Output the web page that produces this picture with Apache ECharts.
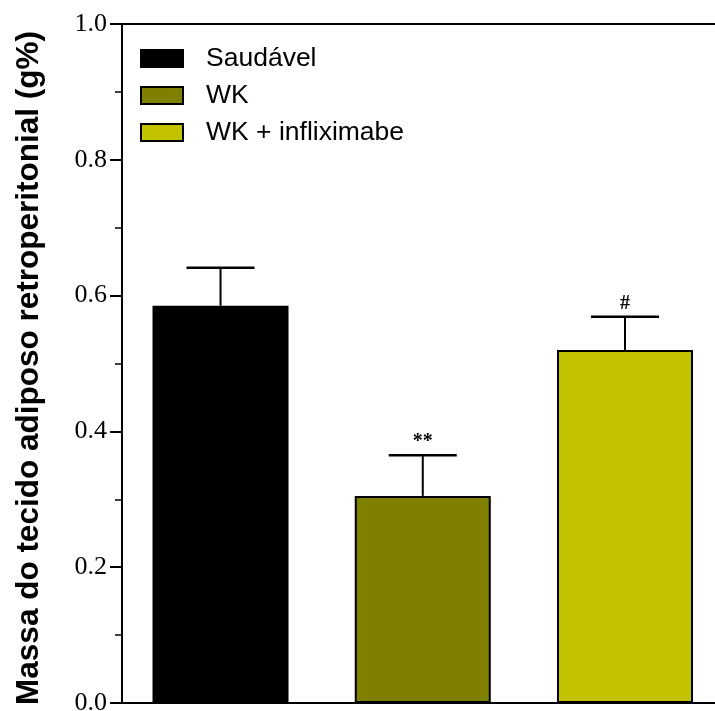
<!DOCTYPE html>
<html>
<head>
<meta charset="utf-8">
<script src="https://cdn.jsdelivr.net/npm/echarts@6/dist/echarts.min.js"></script>
<style>
  html, body { margin: 0; padding: 0; background: #fff; }
  #chart { width: 715px; height: 711px; }
</style>
</head>
<body>
<div id="chart"></div>
<script>
// Group names, mean values and upper error limits (mean + SEM)
var groups = ['Saudável', 'WK', 'WK + infliximabe'];
var means = [0.585, 0.305, 0.52];
var upperErr = [0.641, 0.365, 0.569];
var markers = ['', '**', '#'];
var colors = ['#000000', '#808000', '#c2c200'];
var yTicks = [0, 0.2, 0.4, 0.6, 0.8, 1.0];

var chart = echarts.init(document.getElementById('chart'));

// one bar series per group (group index on a numeric x scale) so each has a legend entry
var barSeries = groups.map(function (name, i) {
  return {
    name: name,
    type: 'bar',
    data: [[i, means[i]]],
    barWidth: 136,
    barGap: '-100%',
    itemStyle: { color: colors[i], borderColor: '#000', borderWidth: 2 },
    silent: true
  };
});

var errorSeries = {
  type: 'custom',
  name: 'err',
  silent: true,
  z: 1,
  data: groups.map(function (_, i) { return [i, means[i], upperErr[i]]; }),
  renderItem: function (params, api) {
    var x = api.value(0);
    var base = api.coord([x, api.value(1)]);
    var top = api.coord([x, api.value(2)]);
    var half = 34;
    var children = [
      { type: 'line', shape: { x1: base[0], y1: base[1], x2: top[0], y2: top[1] },
        style: { stroke: '#000', lineWidth: 2 } },
      { type: 'line', shape: { x1: top[0] - half, y1: top[1], x2: top[0] + half, y2: top[1] },
        style: { stroke: '#000', lineWidth: 2.5 } }
    ];
    var mk = markers[params.dataIndex];
    if (mk) {
      children.push({
        type: 'text',
        style: { text: mk, x: top[0], y: top[1] - 3, textAlign: 'center', textVerticalAlign: 'bottom',
                 font: 'bold 20px "Liberation Serif", "Times New Roman", serif', fill: '#000' }
      });
    }
    return { type: 'group', children: children };
  }
};

chart.setOption({
  animation: false,
  backgroundColor: '#fff',
  legend: {
    left: 135,
    top: 40,
    orient: 'vertical',
    itemWidth: 42,
    itemHeight: 17,
    itemGap: 10,
    icon: 'rect',
    data: groups,
    textStyle: { fontFamily: '"Liberation Sans", Arial, sans-serif', fontSize: 26.5, color: '#000', padding: [0, 0, 0, 18] }
  },
  grid: { left: 120, right: 0, top: 24, bottom: 8, containLabel: false, outerBoundsMode: 'none' },
  xAxis: [
    {
      type: 'value',
      min: -0.497,
      max: 2.445,
      axisLine: { onZero: false, lineStyle: { color: '#000', width: 2 } },
      axisTick: { show: false },
      axisLabel: { show: false },
      splitLine: { show: false }
    },
    {
      type: 'value',
      position: 'top',
      min: -0.497,
      max: 2.445,
      axisLine: { onZero: false, lineStyle: { color: '#000', width: 2 } },
      axisTick: { show: false },
      axisLabel: { show: false },
      splitLine: { show: false }
    }
  ],
  yAxis: {
    type: 'value',
    min: 0,
    max: 1,
    interval: 0.2,
    offset: -2,
    name: 'Massa do tecido adiposo retroperitonial (g%)',
    nameLocation: 'middle',
    nameGap: 77,
    nameTextStyle: { fontFamily: '"Liberation Sans", Arial, sans-serif', fontWeight: 'bold', fontSize: 31.5, color: '#000', padding: [0, 9, 0, 0] },
    axisLine: { show: true, onZero: false, lineStyle: { color: '#000', width: 2 } },
    axisTick: { show: true, inside: false, length: 12, lineStyle: { color: '#000', width: 2 } },
    minorTick: { show: true, splitNumber: 2, length: 7, lineStyle: { color: '#000', width: 1.5 } },
    splitLine: { show: false },
    axisLabel: {
      margin: 15,
      fontFamily: '"Liberation Serif", "Times New Roman", serif',
      fontSize: 26,
      color: '#000',
      formatter: function (v) { return yTicks.indexOf(+v.toFixed(1)) >= 0 ? v.toFixed(1) : ''; }
    }
  },
  series: barSeries.concat([errorSeries])
});
</script>
</body>
</html>
